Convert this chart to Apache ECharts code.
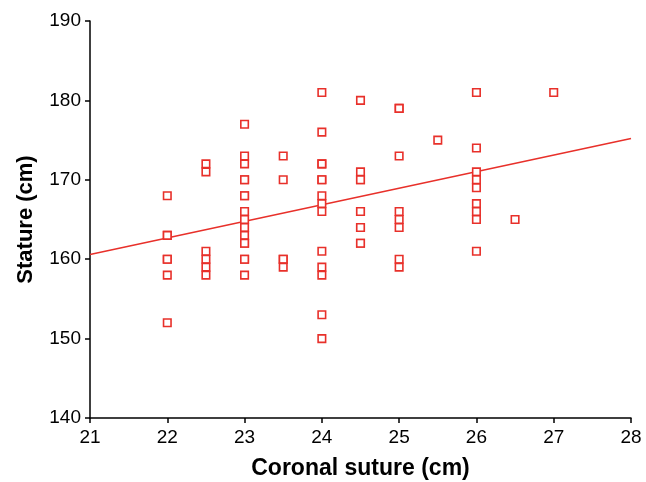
<!DOCTYPE html>
<html><head><meta charset="utf-8">
<script src="https://cdn.jsdelivr.net/npm/echarts@6/dist/echarts.min.js"></script>
<style>html,body{margin:0;padding:0;background:#fff}#c{width:646px;height:482px}</style>
</head><body><div id="c"></div>
<script>
// Data (Coronal suture cm, Stature cm)
const sutureX = [
  22,22,22,22,22,22,22,
  22.5,22.5,22.5,22.5,22.5,22.5,
  23,23,23,23,23,23,23,23,23,23,23,23,23,23,23,23,
  23.5,23.5,23.5,23.5,23.5,
  24,24,24,24,24,24,24,24,24,24,24,24,24,24,
  24.5,24.5,24.5,24.5,24.5,24.5,24.5,24.5,24.5,24.5,
  25,25,25,25,25,25,25,25,
  25.5,
  26,26,26,26,26,26,26,26,26,
  26.5,
  27
];
const statureY = [
  168,163,163,160,160,158,152,
  172,171,161,160,159,158,
  177,173,172,170,170,168,168,166,165,164,163,162,162,160,160,158,
  173,170,160,160,159,
  181,176,172,172,170,170,168,167,166,161,159,158,153,150,
  180,171,170,170,166,166,164,164,162,162,
  179,179,173,166,165,164,160,159,
  175,
  181,174,171,170,169,167,166,165,161,
  165,
  181
];
const fitX = [21, 28];
const fitY = [160.6, 175.2];
const xTicks = [21,22,23,24,25,26,27,28];
const yTicks = [140,150,160,170,180,190];

const red = '#e8302a';
const font = '"Liberation Sans", Arial, Helvetica, sans-serif';
const chart = echarts.init(document.getElementById('c'), null, {renderer:'canvas'});
chart.setOption({
  animation:false,
  backgroundColor:'#fff',
  grid:{left:90,right:15,top:21,bottom:64,containLabel:false,outerBoundsMode:'none'},
  xAxis:{
    type:'value', min:xTicks[0], max:xTicks[xTicks.length-1], interval:1,
    name:'Coronal suture (cm)', nameLocation:'middle', nameGap:39,
    nameTextStyle:{fontFamily:font,fontSize:23,fontWeight:'bold',color:'#000'},
    axisLine:{show:true,onZero:false,lineStyle:{color:'#000',width:1.5}},
    axisTick:{show:true,length:5,lineStyle:{color:'#000',width:1.5}},
    axisLabel:{fontFamily:font,fontSize:19,color:'#000',margin:10},
    splitLine:{show:false}
  },
  yAxis:{
    type:'value', min:yTicks[0], max:yTicks[yTicks.length-1], interval:10,
    name:'Stature (cm)', nameLocation:'middle', nameGap:53, nameRotate:90,
    nameTextStyle:{fontFamily:font,fontSize:22,fontWeight:'bold',color:'#000'},
    axisLine:{show:true,onZero:false,lineStyle:{color:'#000',width:1.5}},
    axisTick:{show:true,length:5,lineStyle:{color:'#000',width:1.5}},
    axisLabel:{fontFamily:font,fontSize:19,color:'#000',margin:9},
    splitLine:{show:false}
  },
  series:[
    {
      type:'line', data:fitX.map((x,i)=>[x,fitY[i]]), symbol:'none',
      lineStyle:{color:red,width:1.5}, z:2, silent:true
    },
    {
      type:'scatter', data:sutureX.map((x,i)=>[x,statureY[i]]),
      symbol:'rect', symbolSize:7.5,
      itemStyle:{color:'#fff',borderColor:red,borderWidth:1.6,opacity:1}, z:3
    }
  ]
});
</script></body></html>
